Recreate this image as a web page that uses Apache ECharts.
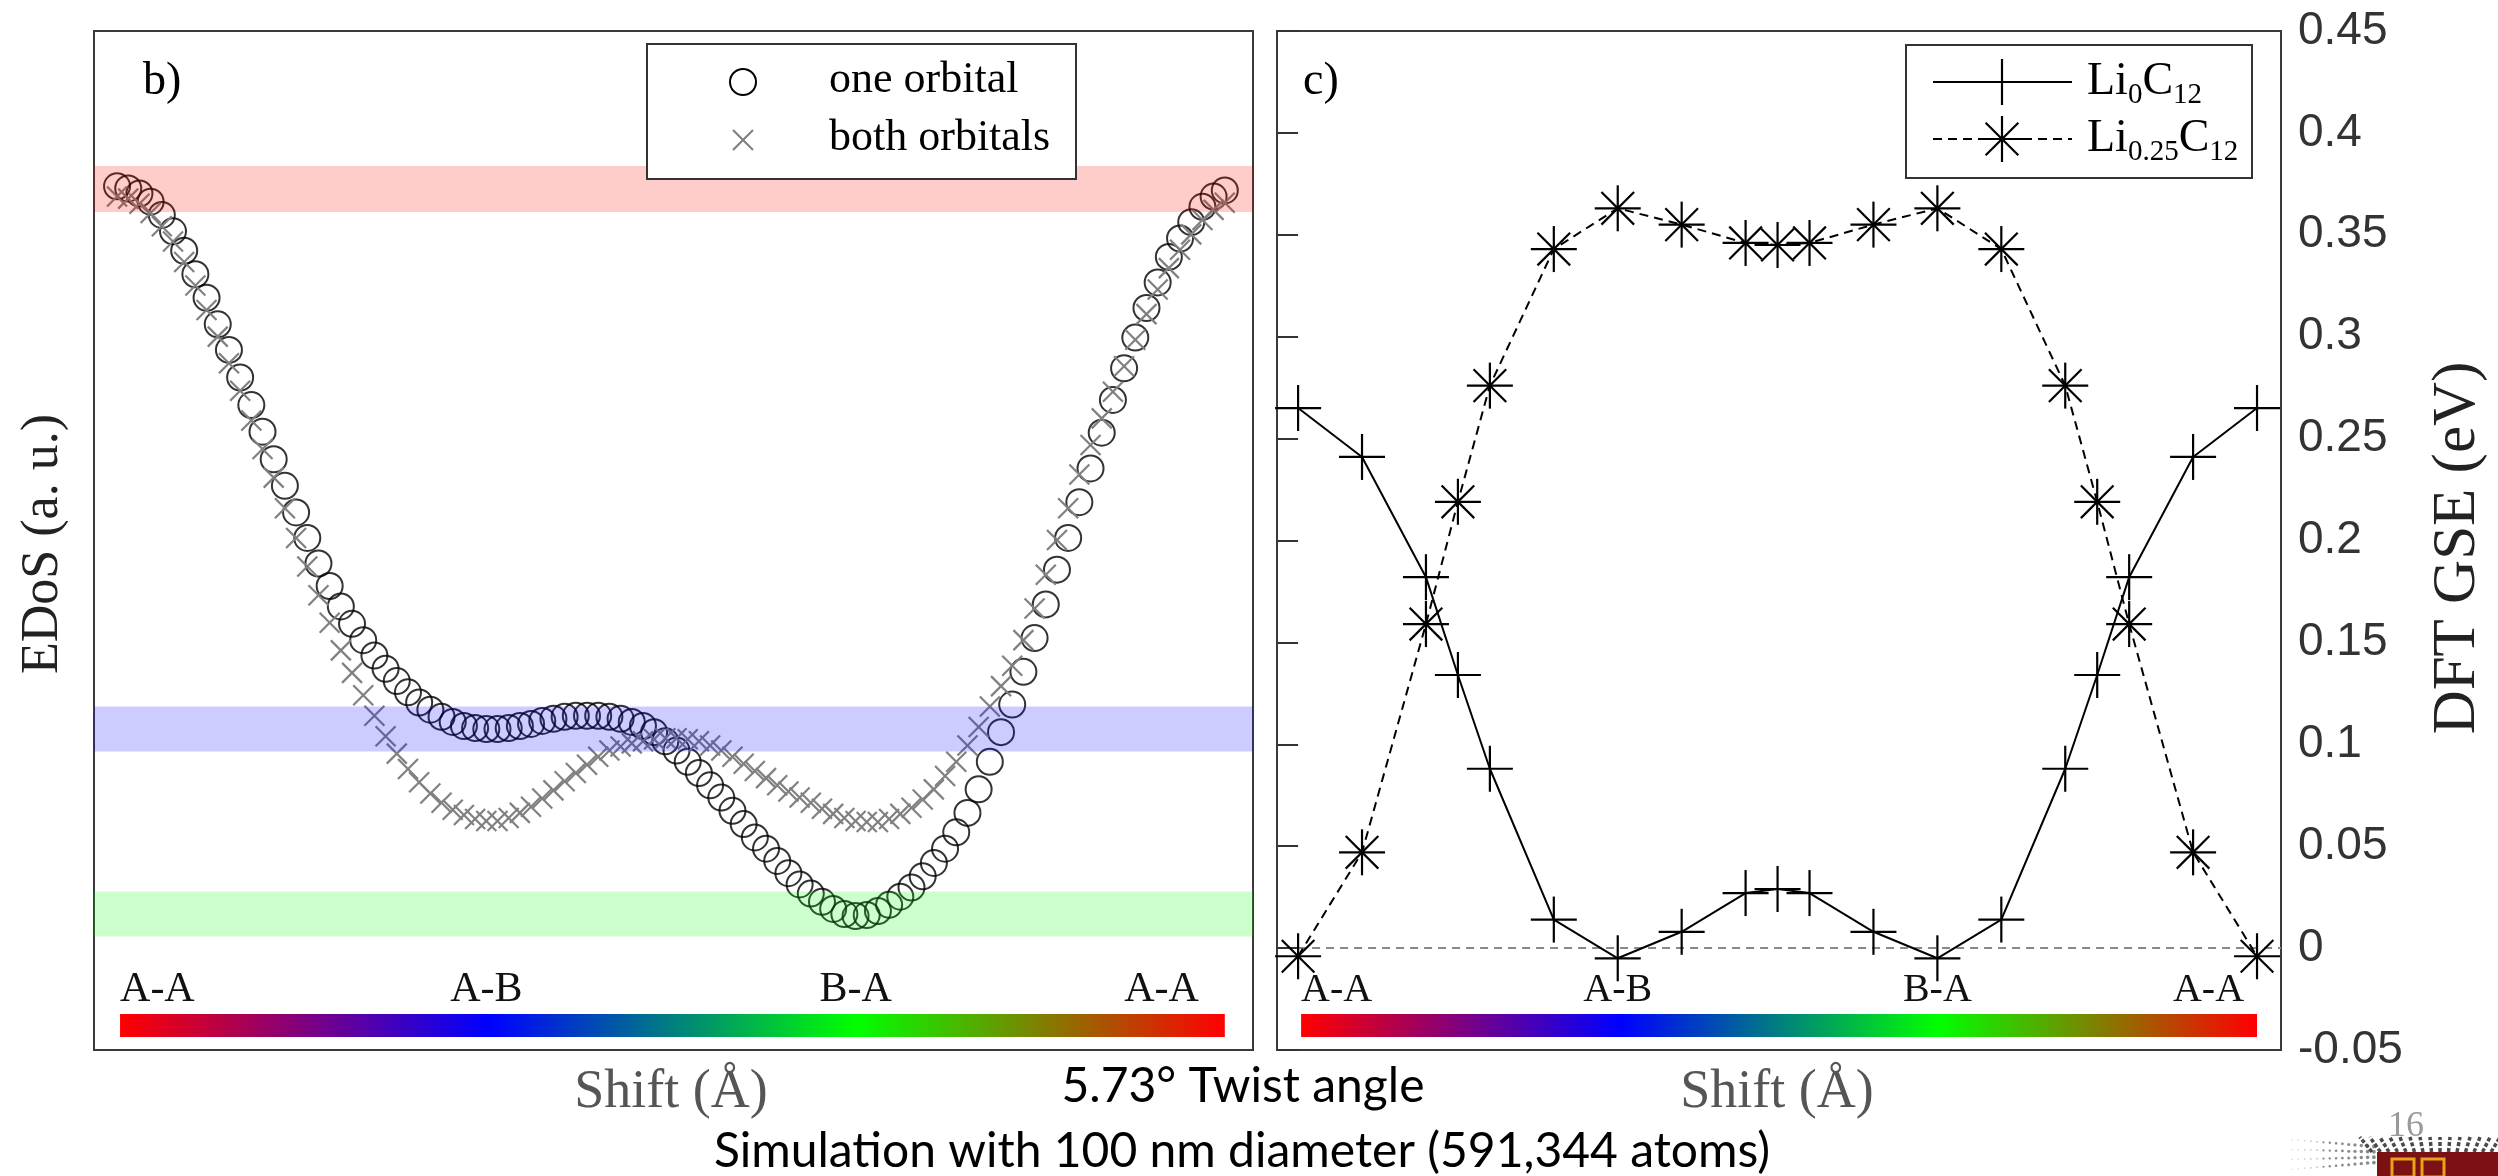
<!DOCTYPE html>
<html><head><meta charset="utf-8">
<script src="https://cdn.jsdelivr.net/npm/echarts/dist/echarts.min.js"></script>
<style>html,body{margin:0;padding:0;background:#fff}#c{width:2498px;height:1176px}</style>
</head><body><div id="c"></div>
<script>
// ---------- DATA ----------
// Panel b) EDoS (arbitrary units), 100 evenly spaced shift samples A-A -> A-B -> B-A -> A-A
const oneOrbital = [84.8,84.6,84.1,83.3,82.0,80.4,78.5,76.2,73.9,71.3,
68.8,66.1,63.4,60.8,58.1,55.5,52.9,50.4,47.9,45.7,
43.7,42.0,40.4,38.9,37.6,36.4,35.3,34.3,33.6,32.9,
32.4,32.0,31.8,31.7,31.7,31.8,32.0,32.2,32.5,32.7,
32.9,33.0,33.0,33.0,32.9,32.7,32.4,32.0,31.4,30.5,
29.6,28.5,27.4,26.2,25.0,23.7,22.4,21.1,20.0,18.8,
17.6,16.5,15.6,14.8,14.1,13.6,13.4,13.5,13.9,14.5,
15.3,16.2,17.3,18.6,20.0,21.6,23.5,25.8,28.5,31.4,
34.1,37.3,40.6,43.9,47.3,50.4,53.9,57.2,60.7,63.9,
67.0,70.0,72.9,75.4,77.9,79.7,81.3,82.8,83.8,84.4];
const bothOrbitals = [83.8,83.6,83.1,82.2,80.9,79.4,77.4,75.1,72.7,70.1,
67.5,64.8,61.9,59.1,56.3,53.3,50.4,47.6,44.8,42.1,
39.4,37.2,35.0,33.0,31.0,29.3,27.8,26.5,25.4,24.5,
23.8,23.3,22.9,22.7,22.7,23.0,23.5,24.1,24.9,25.7,
26.6,27.4,28.2,29.0,29.6,30.0,30.3,30.5,30.7,30.8,
30.8,30.7,30.5,30.1,29.6,29.0,28.3,27.6,26.9,26.2,
25.6,25.0,24.5,23.9,23.4,23.0,22.7,22.6,22.6,22.9,
23.4,24.0,24.8,25.8,27.1,28.5,30.1,31.9,33.9,35.9,
37.9,40.4,43.5,46.8,50.2,53.3,56.6,59.5,62.1,64.7,
67.2,69.8,72.3,74.7,76.8,78.6,80.1,81.5,82.5,83.2];
// highlighted EDoS ranges [low, high]
const bandRanges = [[82.3,86.8],[29.5,33.9],[11.4,15.8]];
// stacking labels
const siteLabels = ['A-A','A-B','B-A','A-A'];
const sitePosB = [0,33,66,99];
const sitePosC = [0,5,10,15];
// Panel c) DFT GSE (eV)
const shiftC = [0,1,2,2.5,3,4,5,6,7,7.5,8,9,10,11,12,12.5,13,14,15];
const gseLi0 = [0.265,0.241,0.182,0.134,0.088,0.014,-0.005,0.008,0.027,0.029,0.027,0.008,-0.005,0.014,0.088,0.134,0.182,0.241,0.265];
const gseLi025 = [-0.004,0.047,0.159,0.219,0.276,0.343,0.363,0.355,0.346,0.345,0.346,0.355,0.363,0.343,0.276,0.219,0.159,0.047,-0.004];
const zeroLevel = 0;
const gseTicks = {min:-0.05, max:0.45, step:0.05};

// ---------- STYLE / LAYOUT ----------
const SERIF = '"Liberation Serif", "DejaVu Serif", serif';
const SANS = '"Liberation Sans", Arial, sans-serif';
const xB = {min:-2.06, max:101.52};
const yB = {min:0.3, max:100};
const xC = {min:-0.33, max:15.375};
const bandFill = ['rgba(255,0,0,0.2)','rgba(0,0,255,0.2)','rgba(0,255,0,0.2)'];
const rainbow = [{offset:0,color:'#ff0000'},{offset:1/3,color:'#0000ff'},{offset:2/3,color:'#00ff00'},{offset:1,color:'#ff0000'}];

const chart = echarts.init(document.getElementById('c'), null, {renderer:'canvas'});

function crossShape(p, s, color, lw){
  return [
    {type:'line', shape:{x1:p[0]-s,y1:p[1]-s,x2:p[0]+s,y2:p[1]+s}, style:{stroke:color,lineWidth:lw}},
    {type:'line', shape:{x1:p[0]-s,y1:p[1]+s,x2:p[0]+s,y2:p[1]-s}, style:{stroke:color,lineWidth:lw}}
  ];
}
function plusShape(p, s, color, lw){
  return [
    {type:'line', shape:{x1:p[0]-s,y1:p[1],x2:p[0]+s,y2:p[1]}, style:{stroke:color,lineWidth:lw}},
    {type:'line', shape:{x1:p[0],y1:p[1]-s,x2:p[0],y2:p[1]+s}, style:{stroke:color,lineWidth:lw}}
  ];
}
function starShape(p, s, color, lw){
  const d = s*0.71;
  return plusShape(p,s,color,lw).concat(crossShape(p,d,color,lw));
}
function siteBar(positions, yMin, endInset, labelFont){
  return function(params, api){
    const a = api.coord([positions[0], yMin]);
    const b = api.coord([positions[positions.length-1], yMin]);
    const bottom = a[1] - 13, h = 23;
    const children = [{type:'rect', shape:{x:a[0]+3, y:bottom-h, width:b[0]-a[0]-3, height:h},
      style:{fill:new echarts.graphic.LinearGradient(0,0,1,0,rainbow)}}];
    positions.forEach(function(pos, k){
      const p = api.coord([pos, yMin]);
      let align = 'center', x = p[0];
      if (k === 0) { align = 'left'; x = a[0]+3; }
      else if (k === positions.length-1) { align = 'right'; x = b[0]-endInset; }
      children.push({type:'text', x:x, y:bottom-h-24, style:{text:siteLabels[k], font:labelFont, fill:'#111', align:align, verticalAlign:'middle', textAlign:align, textVerticalAlign:'middle'}});
    });
    return {type:'group', children:children};
  };
}

const option = {
  animation:false,
  backgroundColor:'#fff',
  grid:[
    {left:94, top:31, width:1159, height:1019, show:true, borderColor:'#3a3a3a', borderWidth:2, backgroundColor:'transparent'},
    {left:1277, top:31, width:1004, height:1019, show:true, borderColor:'#3a3a3a', borderWidth:2, backgroundColor:'transparent'}
  ],
  xAxis:[
    {type:'value', gridIndex:0, min:xB.min, max:xB.max, show:false},
    {type:'value', gridIndex:1, min:xC.min, max:xC.max, show:false}
  ],
  yAxis:[
    {type:'value', gridIndex:0, min:yB.min, max:yB.max, show:false},
    {type:'value', gridIndex:1, position:'right', min:gseTicks.min, max:gseTicks.max, interval:gseTicks.step,
      axisLine:{show:false}, splitLine:{show:false},
      axisTick:{show:true, inside:true, length:12, lineStyle:{color:'#333', width:2}},
      axisLabel:{show:true, margin:17, fontSize:46, fontFamily:SANS, color:'#333',
        formatter:function(v){ return String(Math.round(v*100)/100); }}},
    {type:'value', gridIndex:1, position:'left', min:gseTicks.min, max:gseTicks.max, interval:gseTicks.step,
      axisLine:{show:false}, splitLine:{show:false}, axisLabel:{show:false},
      axisTick:{show:true, inside:true, length:12, lineStyle:{color:'#333', width:2}}}
  ],
  series:[
    {type:'scatter', xAxisIndex:0, yAxisIndex:0, z:2, silent:true,
      data:oneOrbital.map(function(v,i){return [i,v];}),
      symbol:'circle', symbolSize:26,
      itemStyle:{color:'rgba(0,0,0,0)', borderColor:'#000', borderWidth:2}},
    {type:'custom', xAxisIndex:0, yAxisIndex:0, z:3, silent:true,
      data:bothOrbitals.map(function(v,i){return [i,v];}),
      renderItem:function(params, api){
        const p = api.coord([api.value(0), api.value(1)]);
        return {type:'group', children:crossShape(p, 10, '#808080', 2.2)};
      }},
    {type:'custom', xAxisIndex:0, yAxisIndex:0, z:4, silent:true,
      data:bandRanges.map(function(r){return [r[0], r[1]];}),
      renderItem:function(params, api){
        const p0 = api.coord([xB.min, api.value(1)]);
        const p1 = api.coord([xB.max, api.value(0)]);
        return {type:'rect', shape:{x:p0[0], y:p0[1], width:p1[0]-p0[0], height:p1[1]-p0[1]},
          style:{fill:bandFill[params.dataIndex]}};
      }},
    {type:'custom', xAxisIndex:0, yAxisIndex:0, z:5, silent:true, clip:false,
      data:[[0, yB.min]], renderItem:siteBar(sitePosB, yB.min, 26, '42px ' + SERIF)},

    {type:'line', xAxisIndex:1, yAxisIndex:1, z:1, silent:true, symbol:'none',
      data:[[0,zeroLevel],[xC.max,zeroLevel]],
      lineStyle:{color:'#888', width:2, type:[8,6]}},
    {type:'line', xAxisIndex:1, yAxisIndex:1, z:2, silent:true, symbol:'none',
      data:shiftC.map(function(x,i){return [x, gseLi0[i]];}),
      lineStyle:{color:'#000', width:2}},
    {type:'line', xAxisIndex:1, yAxisIndex:1, z:2, silent:true, symbol:'none',
      data:shiftC.map(function(x,i){return [x, gseLi025[i]];}),
      lineStyle:{color:'#000', width:2, type:[9,6]}},
    {type:'custom', xAxisIndex:1, yAxisIndex:1, z:3, silent:true,
      data:shiftC.map(function(x,i){return [x, gseLi0[i]];}),
      renderItem:function(params, api){
        const p = api.coord([api.value(0), api.value(1)]);
        return {type:'group', children:plusShape(p, 23, '#000', 2.2)};
      }},
    {type:'custom', xAxisIndex:1, yAxisIndex:1, z:3, silent:true,
      data:shiftC.map(function(x,i){return [x, gseLi025[i]];}),
      renderItem:function(params, api){
        const p = api.coord([api.value(0), api.value(1)]);
        return {type:'group', children:starShape(p, 23, '#000', 2.2)};
      }},
    {type:'custom', xAxisIndex:1, yAxisIndex:1, z:5, silent:true, clip:false,
      data:[[0, gseTicks.min]], renderItem:siteBar(sitePosC, gseTicks.min, 13, '40px ' + SERIF)}
  ],
  graphic:[]
};

// legends, panel tags, axis titles, captions
const G = [];
function txt(x,y,text,font,fill,align,rot){
  const o = {type:'text', x:x, y:y, z:100, silent:true,
    style:{text:text, font:font, fill:fill||'#000', align:align||'left', verticalAlign:'middle', textAlign:align||'left', textVerticalAlign:'middle'}};
  if (rot) o.rotation = rot;
  return o;
}
// legend b)
G.push({type:'rect', z:90, shape:{x:647,y:44,width:429,height:135}, style:{fill:'#fff', stroke:'#333', lineWidth:2}});
G.push({type:'circle', z:100, shape:{cx:743,cy:82,r:13}, style:{fill:'none', stroke:'#000', lineWidth:2}});
crossShape([743,140],10,'#808080',2.2).forEach(function(e){e.z=100; G.push(e);});
G.push(txt(829,80,'one orbital','44px '+SERIF,'#000'));
G.push(txt(829,138,'both orbitals','44px '+SERIF,'#000'));
// legend c)
G.push({type:'rect', z:90, shape:{x:1906,y:45,width:346,height:133}, style:{fill:'#fff', stroke:'#333', lineWidth:2}});
G.push({type:'line', z:100, shape:{x1:1933,y1:82,x2:2072,y2:82}, style:{stroke:'#000', lineWidth:2}});
plusShape([2002,82],23,'#000',2.2).forEach(function(e){e.z=100; G.push(e);});
G.push({type:'line', z:100, shape:{x1:1933,y1:139,x2:2072,y2:139}, style:{stroke:'#000', lineWidth:2, lineDash:[9,6]}});
starShape([2002,139],23,'#000',2.2).forEach(function(e){e.z=100; G.push(e);});
const richLeg = {a:{fontSize:46, fontFamily:SERIF, color:'#000', lineHeight:56, verticalAlign:'middle'},
                 b:{fontSize:29, fontFamily:SERIF, color:'#000', lineHeight:32, verticalAlign:'bottom'}};
G.push({type:'text', x:2087, y:82, z:100, silent:true, style:{text:'{a|Li}{b|0}{a|C}{b|12}', rich:richLeg, verticalAlign:'middle', textVerticalAlign:'middle'}});
G.push({type:'text', x:2087, y:139, z:100, silent:true, style:{text:'{a|Li}{b|0.25}{a|C}{b|12}', rich:richLeg, verticalAlign:'middle', textVerticalAlign:'middle'}});
// panel tags
G.push(txt(143,82,'b)','46px '+SERIF,'#000'));
G.push(txt(1303,82,'c)','46px '+SERIF,'#000'));
// axis titles
G.push(txt(43,544,'EDoS (a. u.)','52px '+SERIF,'#222','center',Math.PI/2));
G.push(txt(2458,548,'DFT GSE (eV)','61px '+SERIF,'#222','center',Math.PI/2));
G.push(txt(671,1093,'Shift (Å)','54px '+SERIF,'#555','center'));
G.push(txt(1777,1093,'Shift (Å)','54px '+SERIF,'#555','center'));
// captions
G.push(txt(1243,1087,'5.73° Twist angle','48px Lato, "Open Sans", sans-serif','#000','center'));
G.push(txt(1242,1152,'Simulation with 100 nm diameter (591,344 atoms)','48px Lato, "Open Sans", sans-serif','#000','center'));
// slide number and logo (decoration)
G.push(txt(2406,1127,'16','36px '+SERIF,'#9a9a9a','center'));
for (let k=0;k<16;k++){
  const x0 = 2372 + k*8.5;
  const dx = (x0 - 2440)*0.18;
  G.push({type:'line', z:96, shape:{x1:x0, y1:1152, x2:x0+dx, y2:1137},
    style:{stroke:'#4a4a4a', lineWidth:3.5, lineDash:[4,2]}});
}
for (let row=0; row<4; row++){
  for (let k=0;k<14;k++){
    const x = 2292 + k*6.3;
    const y = 1147 + row*5 + (14-k)*0.35*(row-1.5);
    const r = 0.6 + k*0.1;
    G.push({type:'circle', z:95, shape:{cx:x, cy:y, r:r}, style:{fill: k<5 ? '#c8c8c8' : '#8a8a8a'}});
  }
}
G.push({type:'rect', z:98, shape:{x:2377,y:1152,width:121,height:24}, style:{fill:'#7b1113'}});
G.push({type:'rect', z:99, shape:{x:2392,y:1159,width:22,height:18}, style:{fill:'none', stroke:'#e8a317', lineWidth:3}});
G.push({type:'rect', z:99, shape:{x:2422,y:1159,width:22,height:18}, style:{fill:'none', stroke:'#e8a317', lineWidth:3}});
option.graphic = G;

chart.setOption(option);
</script>
</body></html>
